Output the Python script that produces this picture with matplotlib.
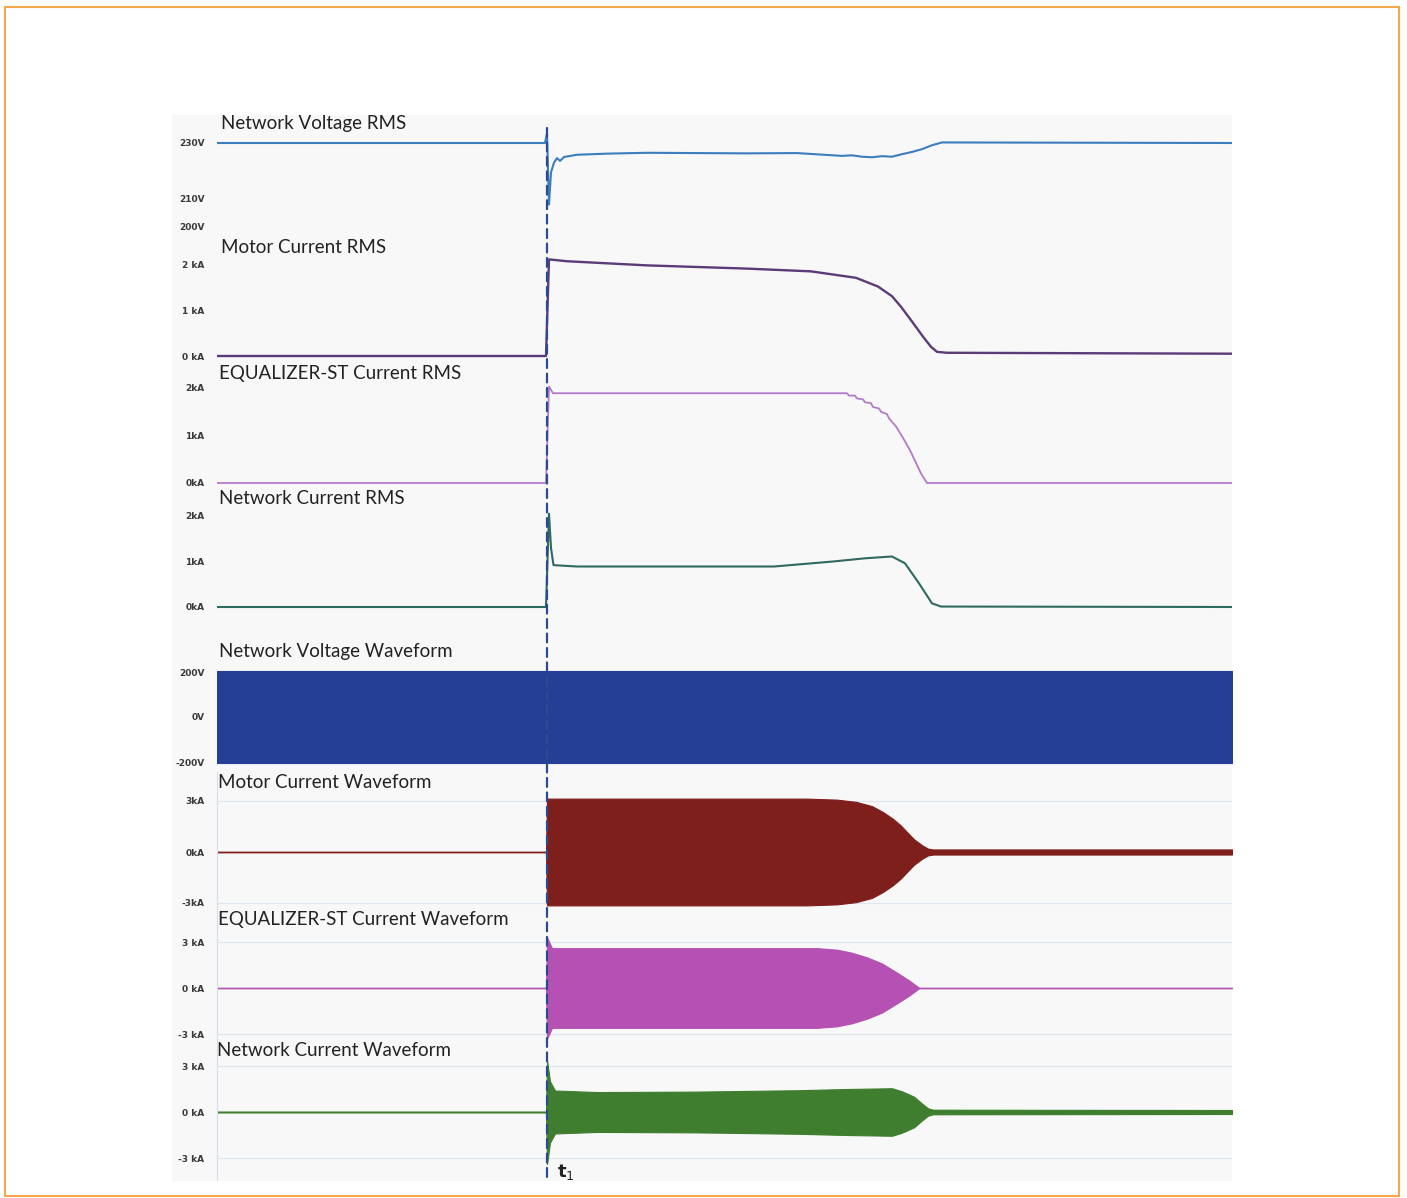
import numpy as np
import matplotlib.pyplot as plt
from matplotlib.patches import Rectangle, ConnectionPatch

W, H = 1407, 1198

# time axis in seconds, t1 (switch-on) = 0
t_start, t_end = -3.3, 6.85

# ---- RMS traces ----
nv_rms_t = [-3.3, -0.02, 0.0, 0.02, 0.04, 0.07, 0.1, 0.13, 0.17, 0.3, 0.6, 1.0, 1.5, 2.0, 2.5,
            2.95, 3.05, 3.15, 3.25, 3.35, 3.45, 3.55, 3.65, 3.75, 3.85, 3.95, 6.85]
nv_rms_v = [230, 230, 233.5, 208, 219.5, 223.0, 224.6, 223.6, 225.0, 225.8, 226.2, 226.5, 226.4, 226.3, 226.4,
            225.4, 225.6, 225.1, 224.9, 225.3, 225.1, 226.0, 226.8, 227.8, 229.2, 230.2, 230]

mc_rms_t = [-3.3, -0.01, 0.02, 0.2, 1.0, 2.0, 2.64, 3.09, 3.31, 3.45, 3.54, 3.65, 3.76, 3.84, 3.9, 4.0, 6.85]
mc_rms_kA = [0, 0, 2.1, 2.06, 1.97, 1.9, 1.84, 1.70, 1.51, 1.3, 1.07, 0.75, 0.42, 0.2, 0.09, 0.07, 0.05]

eq_rms_t = [-3.3, -0.01, 0.02, 0.06, 3.0, 3.02, 3.08, 3.1, 3.16, 3.18, 3.24, 3.26, 3.32, 3.34,
            3.40, 3.42, 3.49, 3.56, 3.63, 3.74, 3.8, 6.85]
eq_rms_kA = [0, 0, 2.03, 1.89, 1.89, 1.84, 1.84, 1.78, 1.76, 1.70, 1.68, 1.60, 1.57, 1.50,
             1.45, 1.36, 1.19, 0.95, 0.69, 0.2, 0.0, 0.0]

nc_rms_t = [-3.3, -0.01, 0.02, 0.04, 0.065, 0.3, 1.0, 2.27, 2.86, 3.18, 3.45, 3.58, 3.72, 3.85, 3.94, 6.85]
nc_rms_kA = [0, 0, 2.05, 1.3, 0.92, 0.89, 0.89, 0.89, 1.0, 1.07, 1.11, 0.96, 0.52, 0.08, 0.01, 0.0]

# ---- waveform envelopes (peak amplitude) ----
nv_wf_t = [-3.3, 6.85]
nv_wf_v = [205, 205]

mc_wf_t = [-3.3, -0.01, 0.0, 2.6, 2.9, 3.09, 3.25, 3.36, 3.46, 3.54, 3.62, 3.67, 3.75, 3.81, 3.86, 6.85]
mc_wf_kA = [0.02, 0.02, 3.14, 3.14, 3.08, 2.95, 2.7, 2.35, 1.95, 1.55, 1.05, 0.75, 0.4, 0.2, 0.15, 0.15]

eq_wf_t = [-3.3, -0.01, 0.0, 0.05, 2.7, 2.9, 3.05, 3.2, 3.35, 3.5, 3.62, 3.72, 6.85]
eq_wf_kA = [0.02, 0.02, 3.3, 2.6, 2.6, 2.5, 2.3, 2.0, 1.6, 1.0, 0.5, 0.02, 0.02]

nc_wf_t = [-3.3, -0.01, 0.0, 0.03, 0.08, 0.5, 1.5, 2.5, 3.0, 3.45, 3.55, 3.67, 3.75, 3.81, 3.86, 6.85]
nc_wf_kA = [0.03, 0.03, 3.4, 2.0, 1.4, 1.3, 1.33, 1.42, 1.5, 1.55, 1.35, 1.0, 0.55, 0.24, 0.15, 0.13]

# panel layout: (axes top px, axes bottom px, (val, px), (val, px), ticks, labels, title, title x, title y)
panels = [
    (128, 236, (230, 143), (200, 227), [230, 210, 200], ['230V', '210V', '200V'], 'Network Voltage RMS', 221, 124),
    (236, 362, (2, 264), (0, 356), [2, 1, 0], ['2 kA', '1 kA', '0 kA'], 'Motor Current RMS', 221, 247),
    (362, 490, (2, 388), (0, 483), [2, 1, 0], ['2kA', '1kA', '0kA'], 'EQUALIZER-ST Current RMS', 219, 373),
    (490, 640, (2, 516), (0, 607), [2, 1, 0], ['2kA', '1kA', '0kA'], 'Network Current RMS', 219, 498),
    (640, 772, (200, 672), (-200, 762), [200, 0, -200], ['200V', '0V', '-200V'], 'Network Voltage Waveform', 219, 652),
    (772, 910, (3, 801), (-3, 903), [3, 0, -3], ['3kA', '0kA', '-3kA'], 'Motor Current Waveform', 218, 783),
    (910, 1045, (3, 942), (-3, 1034), [3, 0, -3], ['3 kA', '0 kA', '-3 kA'], 'EQUALIZER-ST Current Waveform', 218, 920),
    (1045, 1180, (3, 1066), (-3, 1158), [3, 0, -3], ['3 kA', '0 kA', '-3 kA'], 'Network Current Waveform', 217, 1051),
]

fig = plt.figure(figsize=(W / 100, H / 100), dpi=100)
fig.patch.set_facecolor('white')

# scanned page background and orange frame
fig.add_artist(Rectangle((172 / W, 1 - 1181 / H), (1232 - 172) / W, (1181 - 115) / H,
                         transform=fig.transFigure, facecolor='#f8f8f8', edgecolor='none', zorder=-10))
fig.add_artist(Rectangle((5 / W, 1 - 1196 / H), (1399 - 5) / W, (1196 - 7) / H,
                         transform=fig.transFigure, fill=False, edgecolor='#f6a84c', lw=1.5))

axes = []
for i, (top, bot, (va, ya), (vb, yb), ticks, labels, title, tx, ty) in enumerate(panels):
    ax = fig.add_axes([217 / W, 1 - bot / H, (1232 - 217) / W, (bot - top) / H])
    ax.set_facecolor('none')
    scale = (yb - ya) / (va - vb)
    ax.set_ylim(vb - (bot - yb) / scale, va + (ya - top) / scale)
    ax.set_xlim(t_start, t_end)
    ax.set_xticks([])
    ax.set_yticks(ticks, labels, fontsize=6.5, fontweight='bold', color='#3a3a3a')
    ax.tick_params(axis='y', length=0, pad=9)
    for s in ['top', 'right', 'bottom']:
        ax.spines[s].set_visible(False)
    if i >= 5:
        ax.spines['left'].set_color('#d3e0ec')
        ax.spines['left'].set_linewidth(0.8)
        ax.axhline(3, color='#dde5ee', lw=0.8, zorder=0)
        ax.axhline(-3, color='#dde5ee', lw=0.8, zorder=0)
    else:
        ax.spines['left'].set_visible(False)
    fig.text(tx / W, 1 - ty / H, title, fontsize=13.5, family='Lato', color='#222222', va='center', ha='left')
    axes.append(ax)

axes[0].plot(nv_rms_t, nv_rms_v, color='#3b7dbd', lw=1.5)
axes[1].plot(mc_rms_t, mc_rms_kA, color='#5b3b78', lw=1.7)
axes[2].plot(eq_rms_t, eq_rms_kA, color='#b27bc9', lw=1.3)
axes[3].plot(nc_rms_t, nc_rms_kA, color='#2e6a5f', lw=1.5)


def band(ax, t, amp, color):
    t = np.array(t)
    amp = np.array(amp)
    ax.fill_between(t, -amp, amp, color=color, lw=0.8, edgecolor=color)


band(axes[4], nv_wf_t, nv_wf_v, '#253f97')
band(axes[5], mc_wf_t, mc_wf_kA, '#7e1f1c')
band(axes[6], eq_wf_t, eq_wf_kA, '#b551b2')
band(axes[7], nc_wf_t, nc_wf_kA, '#3e7e2e')

# t1 marker
con = ConnectionPatch(xyA=(0, 1.0), coordsA=axes[0].get_xaxis_transform(),
                      xyB=(0, 0.0), coordsB=axes[-1].get_xaxis_transform(),
                      color='#2b4c8c', lw=1.6, linestyle=(0, (4, 2.5)), zorder=10)
fig.add_artist(con)
axes[-1].text(0.1, 0.06, 't$_1$', transform=axes[-1].get_xaxis_transform(),
              fontsize=13, fontweight='bold', color='#222222', va='center', ha='left')

fig.savefig('out.png', dpi=100)
